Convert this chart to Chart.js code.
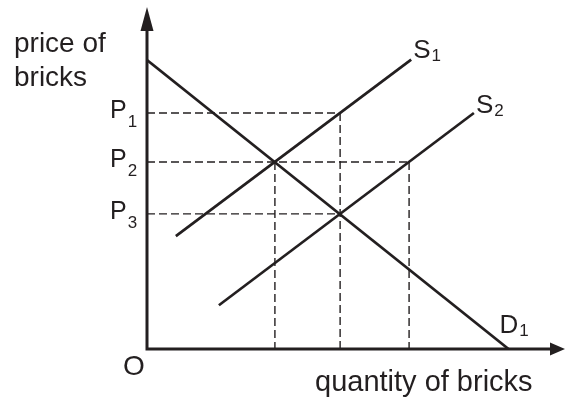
<!DOCTYPE html>
<html>
<head>
<meta charset="utf-8">
<script src="https://cdn.jsdelivr.net/npm/chart.js@4/dist/chart.umd.min.js"></script>
<style>
  html, body { margin: 0; padding: 0; background: #ffffff; }
  #wrap { width: 565px; height: 398px; position: relative; }
</style>
</head>
<body>
<div id="wrap"><canvas id="c"></canvas></div>
<script>
// ---- data (arbitrary units) ----
const demandQ  = [0, 86.5];
const demandP  = [84.5, 0];
const supply1Q = [6.9, 63.2];
const supply1P = [33.0, 84.6];
const supply2Q = [17.2, 78.2];
const supply2P = [12.8, 69.0];
const priceLevels    = [69.0, 54.7, 39.5];   // P1, P2, P3
const priceLabels    = ['1', '2', '3'];
const quantityLevels = [30.6, 46.2, 62.7];   // dashed verticals
// horizontal guides: [price index, quantity index it runs to]
const hGuides = [[0, 1], [1, 2], [2, 1]];
// vertical guides: [quantity index, price index it drops from]
const vGuides = [[0, 1], [1, 0], [2, 1]];
const curveNames = [['S', '1'], ['S', '2'], ['D', '1']];
const xTitle = 'quantity of bricks';
const yTitle = ['price of', 'bricks'];
const originLabel = 'O';

const INK = '#231f20';
const FONT = '"Liberation Sans", Arial, sans-serif';

function pts(qs, ps) { return qs.map((q, i) => ({ x: q, y: ps[i] })); }

const datasets = [];
hGuides.forEach(([pi, qi]) => {
  datasets.push({ data: [{ x: 0, y: priceLevels[pi] }, { x: quantityLevels[qi], y: priceLevels[pi] }],
    borderColor: INK, borderWidth: 1.4, borderDash: [8, 4], order: 2 });
});
vGuides.forEach(([qi, pi]) => {
  datasets.push({ data: [{ x: quantityLevels[qi], y: priceLevels[pi] }, { x: quantityLevels[qi], y: 0 }],
    borderColor: INK, borderWidth: 1.4, borderDash: [8, 4], order: 2 });
});
const solid = { borderColor: INK, borderWidth: 2.7, order: 1, borderCapStyle: 'butt' };
datasets.push(Object.assign({ data: pts(supply1Q, supply1P), id: 's1' }, solid));
datasets.push(Object.assign({ data: pts(supply2Q, supply2P), id: 's2' }, solid));
datasets.push(Object.assign({ data: pts(demandQ, demandP), id: 'd1' }, solid));
datasets.forEach(d => { d.showLine = true; d.pointRadius = 0; d.pointHoverRadius = 0; d.fill = false; });

function sub(ctx, main, s, x, y, mainSize, subSize, dy) {
  ctx.font = mainSize + 'px ' + FONT;
  ctx.fillText(main, x, y);
  const w = ctx.measureText(main).width;
  ctx.font = subSize + 'px ' + FONT;
  ctx.fillText(s, x + w + 1, y + dy);
}

const decor = {
  id: 'decor',
  afterDatasetsDraw(chart) {
    const ctx = chart.ctx;
    const xs = chart.scales.x, ys = chart.scales.y;
    const x0 = xs.getPixelForValue(0), y0 = ys.getPixelForValue(0);
    const xEnd = xs.getPixelForValue(xs.max), yTop = ys.getPixelForValue(ys.max);
    ctx.save();
    ctx.strokeStyle = INK; ctx.fillStyle = INK; ctx.lineWidth = 3;
    // axes
    ctx.beginPath();
    ctx.moveTo(x0, yTop + 20); ctx.lineTo(x0, y0 + 1.5);
    ctx.moveTo(x0 - 1.5, y0); ctx.lineTo(xEnd - 12, y0);
    ctx.stroke();
    // arrowheads
    ctx.beginPath();
    ctx.moveTo(x0, yTop); ctx.lineTo(x0 - 6.5, yTop + 24); ctx.lineTo(x0 + 6.5, yTop + 24); ctx.closePath();
    ctx.fill();
    ctx.beginPath();
    ctx.moveTo(xEnd, y0); ctx.lineTo(xEnd - 15, y0 - 6.5); ctx.lineTo(xEnd - 15, y0 + 6.5); ctx.closePath();
    ctx.fill();
    // text
    ctx.textBaseline = 'alphabetic'; ctx.textAlign = 'left';
    priceLevels.forEach((p, i) => {
      sub(ctx, 'P', priceLabels[i], x0 - 37, ys.getPixelForValue(p) + 5, 25, 17, 9);
    });
    const ends = [
      [supply1Q[1], supply1P[1], 2, -2],
      [supply2Q[1], supply2P[1], 2, 0],
      [demandQ[1], demandP[1], -9, -16]
    ];
    ends.forEach(([q, p, dx, dy], i) => {
      sub(ctx, curveNames[i][0], curveNames[i][1], xs.getPixelForValue(q) + dx, ys.getPixelForValue(p) + dy, 26, 17, 3);
    });
    ctx.font = '28px ' + FONT;
    ctx.fillText(originLabel, x0 - 24, y0 + 26);
    ctx.font = '29px ' + FONT;
    ctx.fillText(xTitle, 315, y0 + 42);
    ctx.font = '28px ' + FONT;
    ctx.fillText(yTitle[0], 14, 52);
    ctx.fillText(yTitle[1], 14, 86);
    ctx.restore();
  }
};

new Chart(document.getElementById('c'), {
  type: 'scatter',
  data: { datasets },
  options: {
    responsive: true,
    maintainAspectRatio: false,
    animation: false,
    layout: { padding: { left: 147, right: 0, top: 7, bottom: 49 } },
    plugins: { legend: { display: false }, tooltip: { enabled: false } },
    scales: {
      x: { type: 'linear', min: 0, max: 100, display: false },
      y: { type: 'linear', min: 0, max: 100, display: false }
    }
  },
  plugins: [decor]
});
</script>
</body>
</html>
